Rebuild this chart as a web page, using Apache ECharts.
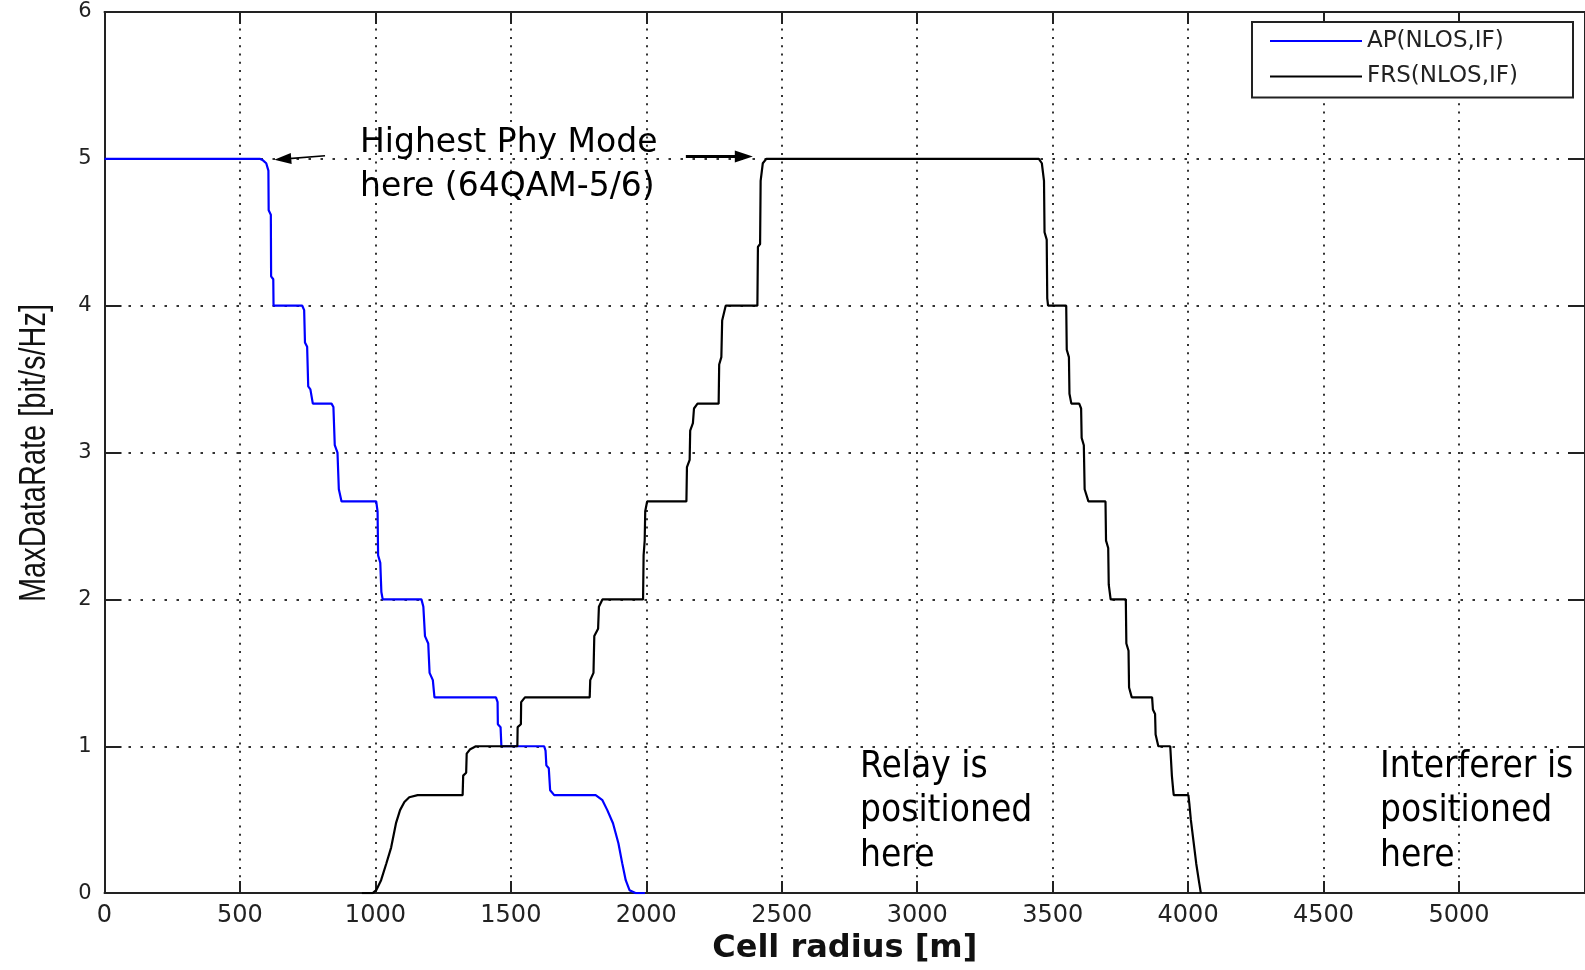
<!DOCTYPE html>
<html>
<head>
<meta charset="utf-8">
<script src="https://cdn.jsdelivr.net/npm/echarts@6/dist/echarts.min.js"></script>
<style>
  html, body { margin: 0; padding: 0; background: #ffffff; }
  #chart { width: 1585px; height: 970px; }
</style>
</head>
<body>
<div id="chart"></div>
<script>
// Cell radius (m) and achievable rate (bit/s/Hz) for the access point link
const apRadius = [0, 573, 585, 597, 605, 606, 614, 615, 623, 624, 730, 737, 740, 748, 752, 760, 769,
  838, 845, 850, 860, 865, 875, 1003, 1008, 1010, 1018, 1022, 1027, 1170, 1177, 1183, 1195, 1200, 1212, 1218,
  1445, 1451, 1452, 1462, 1465, 1623, 1628, 1631, 1640, 1645, 1660, 1813, 1838, 1856, 1877, 1897, 1911,
  1924, 1938, 1960, 1995];
const apRate = [5, 5, 4.99, 4.97, 4.92, 4.65, 4.62, 4.2, 4.18, 4, 4, 3.97, 3.75, 3.72, 3.45, 3.43, 3.333,
  3.333, 3.31, 3.05, 3.0, 2.75, 2.667, 2.667, 2.6, 2.3, 2.25, 2.05, 2, 2, 1.95, 1.75, 1.7, 1.5, 1.45, 1.333,
  1.333, 1.3, 1.15, 1.13, 1, 1, 0.97, 0.87, 0.85, 0.7, 0.667, 0.667, 0.633, 0.565, 0.476, 0.34, 0.204,
  0.088, 0.02, 0, 0];

// Cell radius (m) and achievable rate (bit/s/Hz) for the fixed relay station link
const frsRadius = [950, 990, 1003, 1021, 1040, 1058, 1076, 1091, 1107, 1125, 1156, 1322, 1324, 1335, 1337, 1350, 1371,
  1524, 1525, 1537, 1538, 1552, 1791, 1793, 1805, 1808, 1822, 1825, 1838, 1988, 1990, 1994, 1996, 2003,
  2148, 2150, 2160, 2162, 2172, 2176, 2189, 2267, 2269, 2277, 2280, 2293, 2410, 2412, 2420, 2422, 2430, 2443,
  3449, 3460, 3468, 3470, 3478, 3480, 3483, 3550, 3552, 3560, 3562, 3569, 3598, 3605, 3607, 3615, 3618, 3632,
  3695, 3697, 3705, 3707, 3714, 3770, 3772, 3780, 3782, 3792, 3867, 3870, 3878, 3880, 3890, 3934, 3940, 3945,
  3947, 4001, 4005, 4010, 4020, 4030, 4040, 4047];
const frsRate = [0, 0, 0.02, 0.088, 0.2, 0.31, 0.476, 0.565, 0.62, 0.653, 0.667, 0.667, 0.8, 0.82, 0.95, 0.98, 1,
  1, 1.13, 1.15, 1.3, 1.333, 1.333, 1.45, 1.5, 1.75, 1.8, 1.95, 2, 2, 2.3, 2.4, 2.6, 2.667,
  2.667, 2.9, 2.95, 3.15, 3.2, 3.3, 3.333, 3.333, 3.6, 3.65, 3.9, 4, 4, 4.4, 4.42, 4.85, 4.97, 5,
  5, 4.97, 4.85, 4.5, 4.45, 4.05, 4, 4, 3.7, 3.65, 3.4, 3.333, 3.333, 3.3, 3.1, 3.05, 2.75, 2.667,
  2.667, 2.4, 2.35, 2.1, 2, 2, 1.7, 1.65, 1.4, 1.333, 1.333, 1.25, 1.22, 1.08, 1, 1, 0.8, 0.7,
  0.667, 0.667, 0.6, 0.5, 0.35, 0.2, 0.08, 0];

const seriesNames = ['AP(NLOS,IF)', 'FRS(NLOS,IF)'];
const xTickStep = 500;
const xMax = 5465;
const yTickStep = 1;
const yMax = 6;

// Arrow endpoints [radius, rate] for the "highest mode" callout
const arrowToAp = [[814, 5.021], [658, 4.998]];
const arrowToFrs = [[2146, 5.016], [2360, 5.016]];

const pairs = (xs, ys) => xs.map((x, i) => [x, ys[i]]);

const axisColor = '#222';
const tickFont = 'DejaVu Sans';

// Box-style axis line pinned to the grid edge, with ticks pointing into the plot area
const frameLine = () => ({ show: true, onZero: false, lineStyle: { color: axisColor, width: 2 } });
const frameTick = len => ({ show: true, inside: true, length: len, lineStyle: { color: axisColor, width: 2 } });
const dottedGrid = dash => ({ show: true, lineStyle: { type: dash, color: '#333', width: 2 } });

const chart = echarts.init(document.getElementById('chart'), null, { renderer: 'canvas' });

chart.setOption({
  animation: false,
  backgroundColor: '#ffffff',
  grid: { left: 104.5, top: 12, width: 1483.5, height: 882.6, containLabel: false },
  legend: {
    orient: 'vertical',
    left: 1252,
    top: 22,
    padding: [7, 30, 9, 18],
    itemGap: 11.5,
    itemWidth: 92,
    itemHeight: 2,
    icon: 'rect',
    backgroundColor: '#ffffff',
    borderColor: axisColor,
    borderWidth: 2,
    borderRadius: 0,
    data: seriesNames,
    textStyle: { fontFamily: tickFont, fontSize: 23, color: '#222', lineHeight: 24, width: 176 }
  },
  xAxis: [
    {
      type: 'value', position: 'bottom', min: 0, max: xMax, interval: xTickStep,
      axisLine: frameLine(), axisTick: frameTick(12),
      axisLabel: {
        margin: 11, fontFamily: tickFont, fontSize: 24, color: '#222', showMaxLabel: false,
        formatter: v => (v % xTickStep === 0 ? String(v) : '')
      },
      splitLine: dottedGrid([2, 6.3]),
      name: 'Cell radius [m]', nameLocation: 'middle', nameGap: 38,
      nameTextStyle: { fontFamily: 'DejaVu Sans', fontWeight: 'bold', fontSize: 32, color: '#111' }
    },
    {
      type: 'value', position: 'top', min: 0, max: xMax, interval: xTickStep,
      axisLine: frameLine(), axisTick: frameTick(12),
      axisLabel: { show: false }, splitLine: { show: false }
    }
  ],
  yAxis: [
    {
      type: 'value', position: 'left', min: 0, max: yMax, interval: yTickStep,
      axisLine: frameLine(), axisTick: frameTick(17),
      axisLabel: { margin: 13, fontFamily: tickFont, fontSize: 21, color: '#222' },
      splitLine: dottedGrid([2.5, 9.5])
    },
    {
      type: 'value', position: 'right', min: 0, max: yMax, interval: yTickStep,
      axisLine: frameLine(), axisTick: frameTick(17),
      axisLabel: { show: false }, splitLine: { show: false }
    }
  ],
  series: [
    {
      name: seriesNames[0], type: 'line', xAxisIndex: 0, yAxisIndex: 0,
      data: pairs(apRadius, apRate), symbol: 'none', smooth: false,
      lineStyle: { color: '#0000ff', width: 2.2 }, itemStyle: { color: '#0000ff' },
      markLine: {
        silent: true, symbol: ['none', 'triangle'], symbolSize: [11, 17],
        lineStyle: { color: '#000', width: 1.6, type: 'solid' },
        label: { show: false },
        data: [[{ coord: arrowToAp[0] }, { coord: arrowToAp[1] }]]
      }
    },
    {
      name: seriesNames[1], type: 'line', xAxisIndex: 0, yAxisIndex: 0,
      data: pairs(frsRadius, frsRate), symbol: 'none', smooth: false,
      lineStyle: { color: '#000000', width: 2.2 }, itemStyle: { color: '#000000' },
      markLine: {
        silent: true, symbol: ['none', 'triangle'], symbolSize: [12, 18],
        lineStyle: { color: '#000', width: 3, type: 'solid' },
        label: { show: false },
        data: [[{ coord: arrowToFrs[0] }, { coord: arrowToFrs[1] }]]
      }
    }
  ],
  graphic: [
    {
      // y-axis title, read bottom to top
      type: 'text', x: 35, y: 453, rotation: Math.PI / 2, scaleY: 1.3, z: 10,
      style: {
        text: 'MaxDataRate [bit/s/Hz]', fontFamily: 'Liberation Sans', fontSize: 29,
        fill: '#111', align: 'center', verticalAlign: 'middle'
      }
    },
    {
      type: 'text', x: 360, y: 121.6, z: 10,
      style: {
        text: 'Highest Phy Mode\nhere (64QAM-5/6)', fontFamily: 'DejaVu Sans', fontSize: 33,
        lineHeight: 44, fill: '#000', verticalAlign: 'top'
      }
    },
    {
      type: 'text', x: 860, y: 744.6, scaleX: 0.87, z: 10,
      style: {
        text: 'Relay is\npositioned\nhere', fontFamily: 'DejaVu Sans', fontSize: 38,
        lineHeight: 44.5, fill: '#000', verticalAlign: 'top'
      }
    },
    {
      type: 'text', x: 1380, y: 744.6, scaleX: 0.87, z: 10,
      style: {
        text: 'Interferer is\npositioned\nhere', fontFamily: 'DejaVu Sans', fontSize: 38,
        lineHeight: 44.5, fill: '#000', verticalAlign: 'top'
      }
    }
  ]
});
</script>
</body>
</html>
